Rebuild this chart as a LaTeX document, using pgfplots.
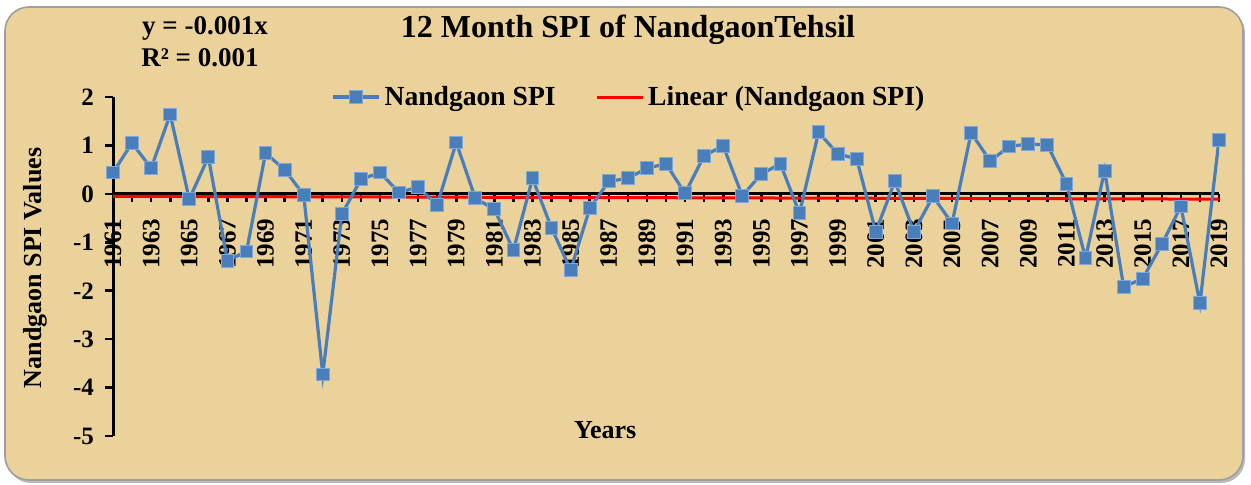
\documentclass[border=0pt]{standalone}
\usepackage{fontspec}
\setmainfont{Liberation Serif}
\usepackage{pgfplots}
\usepackage{pgfplotstable}
\pgfplotsset{compat=1.18}
\definecolor{bg}{RGB}{234,210,154}
\definecolor{spiblue}{RGB}{74,126,187}
\definecolor{spiedge}{RGB}{125,168,218}
\pgfplotstableread{
year spi
1961 0.44
1962 1.05
1963 0.53
1964 1.64
1965 -0.11
1966 0.76
1967 -1.38
1968 -1.19
1969 0.84
1970 0.50
1971 -0.02
1972 -3.73
1973 -0.42
1974 0.30
1975 0.44
1976 0.03
1977 0.14
1978 -0.23
1979 1.06
1980 -0.09
1981 -0.32
1982 -1.16
1983 0.32
1984 -0.71
1985 -1.57
1986 -0.30
1987 0.26
1988 0.32
1989 0.53
1990 0.62
1991 0.01
1992 0.79
1993 0.99
1994 -0.04
1995 0.41
1996 0.62
1997 -0.40
1998 1.27
1999 0.83
2000 0.72
2001 -0.78
2002 0.26
2003 -0.78
2004 -0.05
2005 -0.61
2006 1.26
2007 0.68
2008 0.98
2009 1.03
2010 1.01
2011 0.21
2012 -1.33
2013 0.48
2014 -1.92
2015 -1.75
2016 -1.04
2017 -0.26
2018 -2.26
2019 1.12
}\spidata
\pgfplotstableread{
year trend
1961 -0.001
2019 -0.059
}\trenddata
\pgfplotstableread{
year zero
1961 0
2019 0
}\zerodata
\begin{document}
\begin{tikzpicture}
\useasboundingbox (0,0) rectangle (625.5pt,-242pt);
\fill[gray!55, rounded corners=12pt] (3.5pt,-4.5pt) rectangle (622.5pt,-241.5pt);
\filldraw[fill=bg, draw=gray!75, line width=0.8pt, rounded corners=12pt] (2.5pt,-3.5pt) rectangle (621.5pt,-240pt);
\begin{axis}[
  at={(56.5pt,-218pt)}, anchor=south west,
  scale only axis, width=553pt, height=169.5pt,
  xmin=1961, xmax=2019, ymin=-5, ymax=2,
  axis y line=left, axis x line=middle,
  hide obscured x ticks=false,
  axis line style={-, line width=1.5pt, black},
  x axis line style={draw=none},
  xtick={1961,1963,...,2019},
  minor xtick={1962,1964,...,2018},
  ytick={-5,-4,...,2},
  tick style={black, line width=1.3pt},
  major tick length=4pt, minor tick length=4pt,
  tick align=outside,
  /pgf/number format/assume math mode=true,
  /pgf/number format/1000 sep={},
  ticklabel style={font=\bfseries\fontsize{12.5}{14}\selectfont},
  xticklabel style={yshift=-5pt, rotate=90, anchor=east},
  yticklabel style={xshift=-2pt},
  xlabel={Years},
  xlabel style={at={(axis description cs:0.445,0.018)}, anchor=center, font=\bfseries\fontsize{13}{15}\selectfont},
  ylabel={Nandgaon SPI Values},
  ylabel style={at={(axis description cs:-0.0705,0.496)}, anchor=center, font=\bfseries\fontsize{13}{15}\selectfont},
  title={12 Month SPI of NandgaonTehsil},
  title style={at={(axis description cs:0.4656,1.162)}, anchor=center, font=\bfseries\fontsize{16}{18}\selectfont},
  legend columns=2,
  legend style={at={(axis description cs:0.4675,1.0)}, anchor=center, draw=none, fill=none,
    font=\bfseries\fontsize{13.8}{15}\selectfont,
    /tikz/every even column/.append style={column sep=18pt}},
  legend image code/.code={\draw[mark repeat=2,mark phase=2] plot coordinates {(0cm,0cm)(0.4cm,0cm)(0.8cm,0cm)};},
]
\addplot[black, line width=1.5pt, forget plot] table[x=year, y=zero] {\zerodata};
\addplot[red, line width=1.5pt, forget plot, yshift=-1.2pt] table[x=year, y=trend] {\trenddata};
\addplot[spiblue, line width=1.6pt, mark=square*, mark size=3.2pt,
  mark options={fill=spiblue, draw=spiedge, line width=0.5pt}] table[x=year, y=spi] {\spidata};
\addlegendentry{Nandgaon SPI}
\addlegendimage{red, line width=1.5pt}
\addlegendentry{Linear (Nandgaon SPI)}
\end{axis}
\node[font=\bfseries\fontsize{13.5}{15}\selectfont] at (102.5pt,-14pt) {y = -0.001x};
\node[font=\bfseries\fontsize{13.5}{15}\selectfont] at (100pt,-29pt) {R² = 0.001};
\end{tikzpicture}
\end{document}
